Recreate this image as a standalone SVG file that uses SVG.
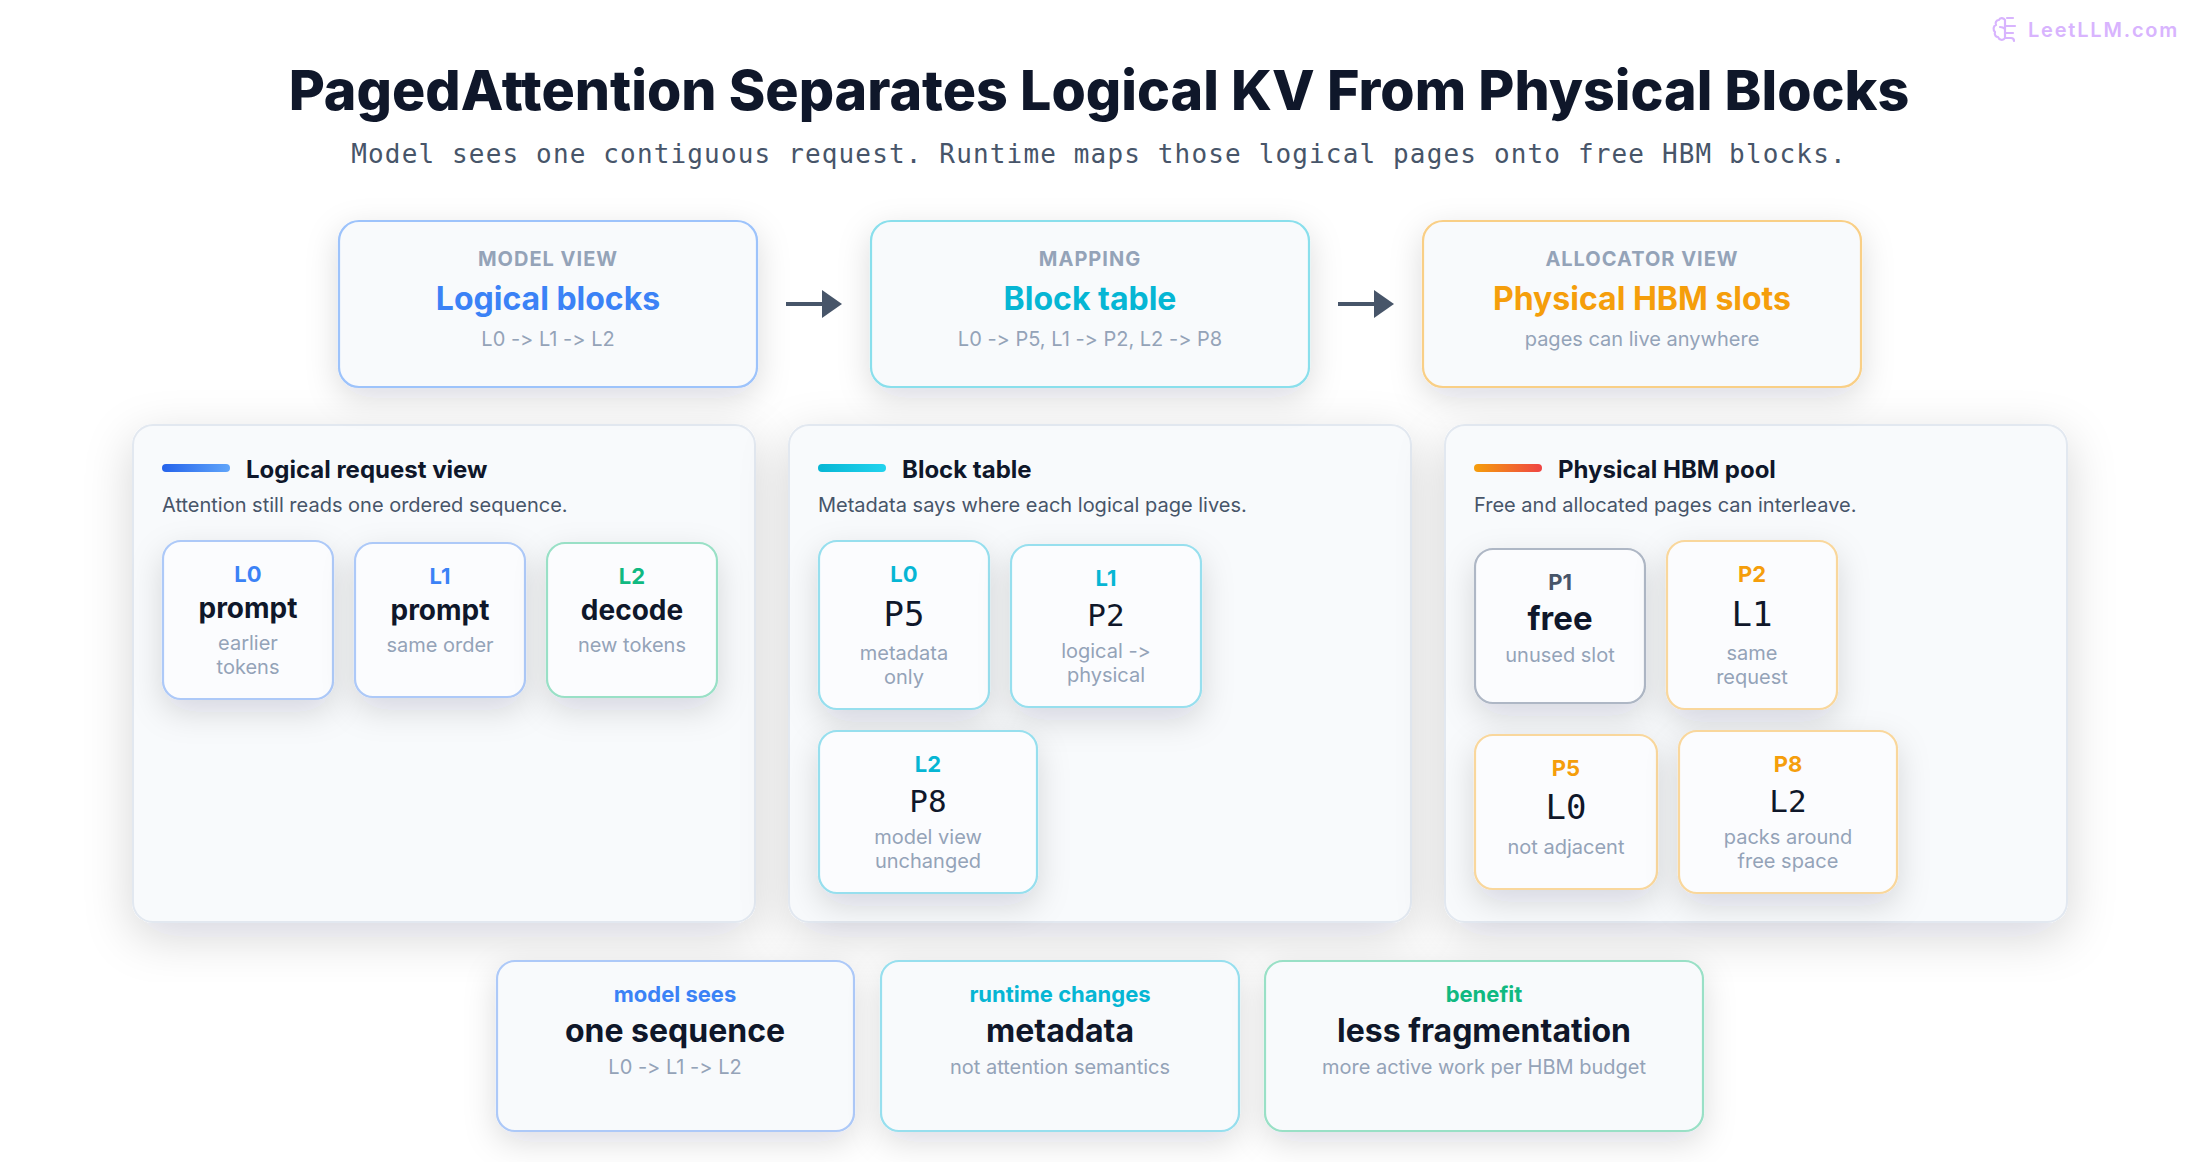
<svg xmlns="http://www.w3.org/2000/svg" width="2200" height="1162" viewBox="0 0 2200 1162">
<style>
text{font-family:"Inter","Liberation Sans",sans-serif;text-anchor:middle;font-variant-ligatures:none;font-feature-settings:"calt" 0,"liga" 0}
.title{font-size:55.5px;font-weight:800;fill:#0f172a}
.subtitle{font-family:"DejaVu Sans Mono","Liberation Mono",monospace;font-size:26px;letter-spacing:1.15px;fill:#475569}
.k{font-size:20px;font-weight:700;fill:#94a3b8;letter-spacing:1px}
.h{font-size:32px;font-weight:700}
.s{font-size:20px;fill:#94a3b8}
.panel{fill:#f8fafc;stroke:#e2e8f0;stroke-width:2;filter:url(#sp)}
.top{fill:#f8fafc;stroke-width:2.2;filter:url(#st)}
.card{fill:#fbfcfe;stroke-width:2.2;filter:url(#sc)}
.pt{font-size:24px;font-weight:700;fill:#0f172a;text-anchor:start}
.pd{font-size:20px;fill:#475569;text-anchor:start}
.l{font-size:22px;font-weight:700}
.b{font-size:28px;font-weight:700;fill:#0f172a}
.m{font-family:"DejaVu Sans Mono","Liberation Mono",monospace;fill:#0f172a}
.blue{fill:#3b82f6}.cyan{fill:#06b6d4}.amber{fill:#f59e0b}.green{fill:#10b981}.slate{fill:#475569}
.sb{stroke:#9dc3fb}.sc{stroke:#8adfec}.sa{stroke:#f9cf86}.sg{stroke:#98e0c6}
.cb{stroke:#adc9f8}.cc{stroke:#97dfee}.ca{stroke:#f9d79c}.cg{stroke:#99e0c6}.cn{stroke:#aeb7c5}
.wm{font-size:20px;font-weight:600;fill:#d8b4fe;letter-spacing:1.8px;text-anchor:start}
.ic{fill:none;stroke:#d8b4fe;stroke-width:2.2;stroke-linecap:round;stroke-linejoin:round}
</style>
<defs>
<filter id="sp" x="-10%" y="-10%" width="120%" height="122%"><feDropShadow dx="0" dy="14" stdDeviation="24" flood-color="#0f172a" flood-opacity=".16"/></filter>
<filter id="st" x="-20%" y="-30%" width="140%" height="170%"><feDropShadow dx="0" dy="10" stdDeviation="16" flood-color="#0f172a" flood-opacity=".14"/></filter>
<filter id="sc" x="-30%" y="-30%" width="160%" height="170%"><feDropShadow dx="0" dy="12" stdDeviation="16" flood-color="#0f172a" flood-opacity=".14"/></filter>
<linearGradient id="g1"><stop offset="0" stop-color="#2563eb"/><stop offset="1" stop-color="#60a5fa"/></linearGradient>
<linearGradient id="g2"><stop offset="0" stop-color="#06b6d4"/><stop offset="1" stop-color="#22d3ee"/></linearGradient>
<linearGradient id="g3"><stop offset="0" stop-color="#f59e0b"/><stop offset="1" stop-color="#ef4444"/></linearGradient>
<marker id="arrow" markerUnits="userSpaceOnUse" markerWidth="20" markerHeight="28" refX="0" refY="14" orient="auto"><path d="M0 0L20 14L0 28Z" fill="#475569"/></marker>
</defs>
<rect width="2200" height="1162" fill="#fff"/>
<g id="watermark">
<path class="ic" d="M2005 20c-1-2-5-3-6 0c-3 0-4 3-3 5c-3 1-3 5-1 7c-1 3 1 5 3 5c1 3 5 4 7 1V20M2000 27c2 0 4 1 5 2M2005 26h10M2005 33h8M2007 18h6M2005 38h6q3 0 3 3"/>
<text class="wm" x="2028" y="37">LeetLLM.com</text>
</g>
<g id="header">
<text class="title" x="1099" y="110">PagedAttention Separates Logical KV From Physical Blocks</text>
<text class="subtitle" x="1099" y="163">Model sees one contiguous request. Runtime maps those logical pages onto free HBM blocks.</text>
</g>
<g id="panel-logical"><rect class="panel" x="133" y="425" width="622" height="497" rx="20"/>
<rect x="162" y="464" width="68" height="8" rx="4" fill="url(#g1)"/>
<text class="pt" x="246" y="478">Logical request view</text>
<text class="pd" x="162" y="512">Attention still reads one ordered sequence.</text></g>
<g id="panel-table"><rect class="panel" x="789" y="425" width="622" height="497" rx="20"/>
<rect x="818" y="464" width="68" height="8" rx="4" fill="url(#g2)"/>
<text class="pt" x="902" y="478">Block table</text>
<text class="pd" x="818" y="512">Metadata says where each logical page lives.</text></g>
<g id="panel-pool"><rect class="panel" x="1445" y="425" width="622" height="497" rx="20"/>
<rect x="1474" y="464" width="68" height="8" rx="4" fill="url(#g3)"/>
<text class="pt" x="1558" y="478">Physical HBM pool</text>
<text class="pd" x="1474" y="512">Free and allocated pages can interleave.</text></g>
<g id="top-model"><rect class="top sb" x="339" y="221" width="418" height="166" rx="20"/>
<text class="k" x="548" y="266">MODEL VIEW</text><text class="h blue" x="548" y="310">Logical blocks</text><text class="s" x="548" y="346">L0 -&gt; L1 -&gt; L2</text></g>
<g id="top-mapping"><rect class="top sc" x="871" y="221" width="438" height="166" rx="20"/>
<text class="k" x="1090" y="266">MAPPING</text><text class="h cyan" x="1090" y="310">Block table</text><text class="s" x="1090" y="346">L0 -&gt; P5, L1 -&gt; P2, L2 -&gt; P8</text></g>
<g id="top-allocator"><rect class="top sa" x="1423" y="221" width="438" height="166" rx="20"/>
<text class="k" x="1642" y="266">ALLOCATOR VIEW</text><text class="h amber" x="1642" y="310">Physical HBM slots</text><text class="s" x="1642" y="346">pages can live anywhere</text></g>
<g id="connectors">
<path d="M786 304H822" stroke="#475569" stroke-width="4" fill="none" marker-end="url(#arrow)"/>
<path d="M1338 304H1374" stroke="#475569" stroke-width="4" fill="none" marker-end="url(#arrow)"/>
</g>
<g id="card-l0"><rect class="card cb" x="163" y="541" width="170" height="158" rx="18"/>
<text class="l blue" x="248" y="582">L0</text><text class="b" x="248" y="618">prompt</text><text class="s" x="248" y="650">earlier</text><text class="s" x="248" y="674">tokens</text></g>
<g id="card-l1"><rect class="card cb" x="355" y="543" width="170" height="154" rx="18"/>
<text class="l blue" x="440" y="584">L1</text><text class="b" x="440" y="620">prompt</text><text class="s" x="440" y="652">same order</text></g>
<g id="card-l2"><rect class="card cg" x="547" y="543" width="170" height="154" rx="18"/>
<text class="l green" x="632" y="584">L2</text><text class="b" x="632" y="620">decode</text><text class="s" x="632" y="652">new tokens</text></g>
<g id="table-l0"><rect class="card cc" x="819" y="541" width="170" height="168" rx="18"/>
<text class="l cyan" x="904" y="582">L0</text><text class="m" font-size="34" x="904" y="626">P5</text><text class="s" x="904" y="660">metadata</text><text class="s" x="904" y="684">only</text></g>
<g id="table-l1"><rect class="card cc" x="1011" y="545" width="190" height="162" rx="18"/>
<text class="l cyan" x="1106" y="586">L1</text><text class="m" font-size="31" x="1106" y="626">P2</text><text class="s" x="1106" y="658">logical -&gt;</text><text class="s" x="1106" y="682">physical</text></g>
<g id="table-l2"><rect class="card cc" x="819" y="731" width="218" height="162" rx="18"/>
<text class="l cyan" x="928" y="772">L2</text><text class="m" font-size="31" x="928" y="812">P8</text><text class="s" x="928" y="844">model view</text><text class="s" x="928" y="868">unchanged</text></g>
<g id="pool-p1"><rect class="card cn" x="1475" y="549" width="170" height="154" rx="18"/>
<text class="l slate" x="1560" y="590">P1</text><text class="b" style="font-size:33px" x="1560" y="630">free</text><text class="s" x="1560" y="662">unused slot</text></g>
<g id="pool-p2"><rect class="card ca" x="1667" y="541" width="170" height="168" rx="18"/>
<text class="l amber" x="1752" y="582">P2</text><text class="m" font-size="34" x="1752" y="626">L1</text><text class="s" x="1752" y="660">same</text><text class="s" x="1752" y="684">request</text></g>
<g id="pool-p5"><rect class="card ca" x="1475" y="735" width="182" height="154" rx="18"/>
<text class="l amber" x="1566" y="776">P5</text><text class="m" font-size="34" x="1566" y="819">L0</text><text class="s" x="1566" y="854">not adjacent</text></g>
<g id="pool-p8"><rect class="card ca" x="1679" y="731" width="218" height="162" rx="18"/>
<text class="l amber" x="1788" y="772">P8</text><text class="m" font-size="31" x="1788" y="812">L2</text><text class="s" x="1788" y="844">packs around</text><text class="s" x="1788" y="868">free space</text></g>
<g id="sum-model"><rect class="top cb" x="497" y="961" width="357" height="170" rx="18"/>
<text class="l blue" x="675" y="1002">model sees</text><text class="b" style="font-size:32px" x="675" y="1042">one sequence</text><text class="s" x="675" y="1074">L0 -&gt; L1 -&gt; L2</text></g>
<g id="sum-runtime"><rect class="top cc" x="881" y="961" width="358" height="170" rx="18"/>
<text class="l cyan" x="1060" y="1002">runtime changes</text><text class="b" style="font-size:32px" x="1060" y="1042">metadata</text><text class="s" x="1060" y="1074">not attention semantics</text></g>
<g id="sum-benefit"><rect class="top cg" x="1265" y="961" width="438" height="170" rx="18"/>
<text class="l green" x="1484" y="1002">benefit</text><text class="b" style="font-size:32px" x="1484" y="1042">less fragmentation</text><text class="s" x="1484" y="1074">more active work per HBM budget</text></g>
</svg>
